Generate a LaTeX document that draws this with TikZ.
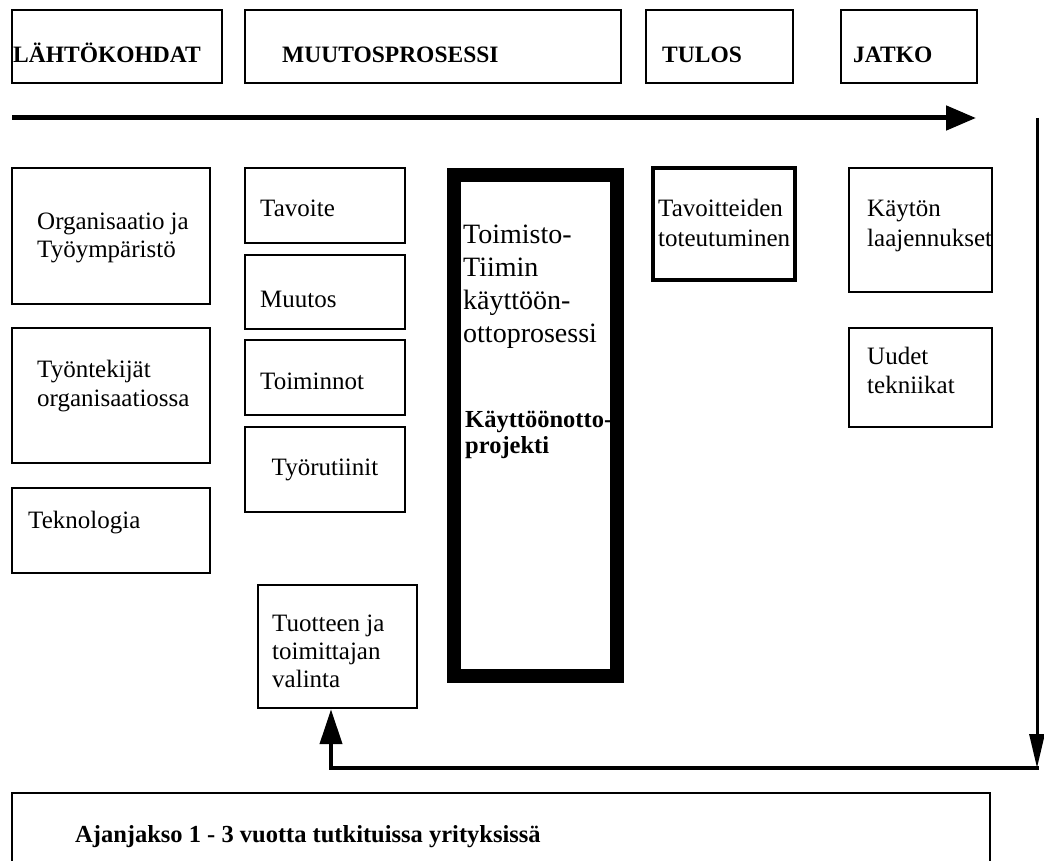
\documentclass[tikz,border=0pt]{standalone}
\usepackage{fontspec}
\setmainfont{Liberation Serif}
\usetikzlibrary{arrows.meta}
\begin{document}
\begin{tikzpicture}[x=1pt,y=-1pt,
  box/.style={draw, line width=2.4pt, inner sep=0pt},
  heavybox/.style={draw, line width=14pt, inner sep=0pt},
  midbox/.style={draw, line width=3.6pt, inner sep=0pt},
  % multi-line labels are anchored at the baseline of their last line
  txt/.style={anchor=base west, inner sep=0pt, align=left,
              font=\fontsize{25}{29}\selectfont},
  bigtxt/.style={anchor=base west, inner sep=0pt, align=left,
              font=\fontsize{28}{33}\selectfont},
  head/.style={anchor=base west, inner sep=0pt,
              font=\fontsize{23.5}{28}\selectfont\bfseries},
  btxt/.style={anchor=base west, inner sep=0pt, align=left,
              font=\fontsize{24.5}{26}\selectfont\bfseries},
]
\clip (0,0) rectangle (1044,861);
\fill[white] (0,0) rectangle (1044,861);

% header row
\node[box, minimum width=210pt, minimum height=73pt] (hstart) at (117,46.5) {};
\node[box, minimum width=376pt, minimum height=73pt] (hproc) at (433,46.5) {};
\node[box, minimum width=147pt, minimum height=73pt] (hres) at (719.5,46.5) {};
\node[box, minimum width=136pt, minimum height=73pt] (hcont) at (909,46.5) {};
\node[head] (hstart-t) at (13,63) {LÄHTÖKOHDAT};
\node[head] (hproc-t) at (282,63) {MUUTOSPROSESSI};
\node[head] (hres-t) at (662,63) {TULOS};
\node[head] (hcont-t) at (853,63) {JATKO};

% time arrow
\coordinate (tstart) at (12,118);
\coordinate (tend) at (976,118);
\draw[line width=5pt, -{Triangle[length=30pt,width=24pt]}] (tstart) -- (tend);

% starting points
\node[box, minimum width=198pt, minimum height=136pt] (org) at (111,236) {};
\node[txt, font=\fontsize{25}{28}\selectfont] (org-t) at (37,257) {Organisaatio ja\\Työympäristö};
\node[box, minimum width=198pt, minimum height=135pt] (staff) at (111,395.5) {};
\node[txt] (staff-t) at (37,406) {Työntekijät\\organisaatiossa};
\node[box, minimum width=198pt, minimum height=85pt] (tech) at (111,530.5) {};
\node[txt] (tech-t) at (28,528) {Teknologia};

% change process column
\node[box, minimum width=160pt, minimum height=75pt] (goal) at (325,205.5) {};
\node[txt] (goal-t) at (260,217) {Tavoite};
\node[box, minimum width=160pt, minimum height=74pt] (chg) at (325,292) {};
\node[txt] (chg-t) at (260,307) {Muutos};
\node[box, minimum width=160pt, minimum height=75pt] (func) at (325,377.5) {};
\node[txt] (func-t) at (260,389) {Toiminnot};
\node[box, minimum width=160pt, minimum height=85pt] (rout) at (325,469.5) {};
\node[txt, anchor=base] (rout-t) at (325,475) {Työrutiinit};
\node[box, minimum width=159pt, minimum height=123pt] (sel) at (337.5,646.5) {};
\node[txt, font=\fontsize{25}{28}\selectfont] (sel-t) at (272,687) {Tuotteen ja\\toimittajan\\valinta};

% implementation process
\node[heavybox, minimum width=163pt, minimum height=501pt] (impl) at (535.5,425.5) {};
\node[bigtxt] (impl-t) at (463,342) {Toimisto-\\Tiimin\\käyttöön-\\ottoprosessi};
\node[btxt] (impl-p) at (465,453) {Käyttöönotto-\\projekti};

% result and continuation
\node[midbox, minimum width=142pt, minimum height=112pt] (reach) at (724,224) {};
\node[txt, font=\fontsize{25}{30}\selectfont] (reach-t) at (658,247) {Tavoitteiden\\toteutuminen};
\node[box, minimum width=143pt, minimum height=124pt] (ext) at (920.5,230) {};
\node[txt, font=\fontsize{25}{30}\selectfont] (ext-t) at (867,247) {Käytön\\laajennukset};
\node[box, minimum width=143pt, minimum height=99pt] (newt) at (920.5,377.5) {};
\node[txt] (newt-t) at (867,393) {Uudet\\tekniikat};

% period box
\node[box, minimum width=978pt, minimum height=110pt] (period) at (501,848) {};
\node[btxt] (period-t) at (75,842) {Ajanjakso 1 - 3 vuotta tutkituissa yrityksissä};

% feedback loop
\coordinate (ltop) at (1037,118);
\coordinate (lcorner) at (1037,768);
\draw[line width=3pt, -{Triangle[length=34pt,width=15pt]}] (ltop) -- (lcorner);
\draw[line width=4pt, -{Triangle[length=35pt,width=22pt]}]
  ([xshift=1.5pt]lcorner) -- ([xshift=-6.5pt]sel.south |- lcorner) -- ([xshift=-6.5pt]sel.south);
\end{tikzpicture}
\end{document}
